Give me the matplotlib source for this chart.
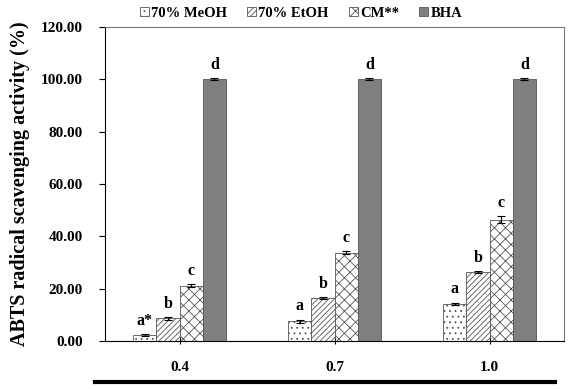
import numpy as np
import matplotlib
matplotlib.use("Agg")
import matplotlib.pyplot as plt
from matplotlib.lines import Line2D

plt.rcParams["font.family"] = ["Liberation Serif", "DejaVu Serif"]
plt.rcParams["font.weight"] = "bold"
plt.rcParams["hatch.linewidth"] = 0.6

# ── data ──────────────────────────────────────────────────────────────
concentrations = ["0.4", "0.7", "1.0"]
series_names = ["70% MeOH", "70% EtOH", "CM**", "BHA"]
meoh = [2.2, 7.6, 14.2]
etoh = [8.7, 16.4, 26.3]
cm = [21.2, 33.8, 46.3]
bha = [100.0, 100.0, 100.0]
meoh_err = [0.4, 0.6, 0.5]
etoh_err = [0.6, 0.4, 0.4]
cm_err = [0.6, 0.6, 1.3]
bha_err = [0.3, 0.3, 0.3]
letters = [
    ["a*", "b", "c", "d"],
    ["a", "b", "c", "d"],
    ["a", "b", "c", "d"],
]
yticks = [0, 20, 40, 60, 80, 100, 120]

# ── styling ───────────────────────────────────────────────────────────
values = [meoh, etoh, cm, bha]
errors = [meoh_err, etoh_err, cm_err, bha_err]
faces = ["white", "white", "white", "#808080"]
hatches = ["...", "//////", "xxx", None]
edges = ["#555555", "#555555", "#555555", "#555555"]

fig = plt.figure(figsize=(5.68, 3.89), dpi=100)
ax = fig.add_axes([0.185, 0.123, 0.808, 0.808])

x = np.arange(len(concentrations))
width = 0.15
offsets = (np.arange(4) - 1.5) * width

for k in range(4):
    ax.bar(x + offsets[k], values[k], width, color=faces[k], hatch=hatches[k],
           edgecolor=edges[k], linewidth=0.6, label=series_names[k],
           yerr=errors[k], error_kw=dict(ecolor="black", elinewidth=0.8,
                                         capsize=3, capthick=0.8))

for i in range(len(concentrations)):
    for k in range(4):
        ax.text(x[i] + offsets[k], values[k][i] + errors[k][i] + 2.0,
                letters[i][k], ha="center", va="bottom",
                fontsize=11.5, fontweight="bold")

ax.set_xlim(-0.48, 2.48)
ax.set_ylim(0, 120)
ax.set_yticks(yticks)
ax.set_yticklabels([f"{v:.2f}" for v in yticks], fontsize=11, fontweight="bold")
ax.set_xticks(x)
ax.set_xticklabels(concentrations, fontsize=11, fontweight="bold")
ax.tick_params(axis="x", direction="inout", length=5, pad=12)
ax.tick_params(axis="y", direction="out", length=4, pad=12)
for sp in ax.spines.values():
    sp.set_linewidth(0.8)
ax.spines["top"].set_color("#777777")
ax.spines["right"].set_color("#777777")

ax.set_ylabel("ABTS radical scavenging activity (%)", fontsize=14.5,
              fontweight="bold", labelpad=8)

ax.legend(loc="lower left", bbox_to_anchor=(0.06, 1.0), ncol=4, frameon=False,
          handlelength=0.6, handleheight=0.6, handletextpad=0.15,
          columnspacing=1.4, borderaxespad=0.1, prop=dict(weight="bold", size=10.5))

# thick line under the x-axis labels
fig.add_artist(Line2D([0.167, 0.977], [0.018, 0.018], color="black", linewidth=3))

fig.savefig("out.png", dpi=100)
